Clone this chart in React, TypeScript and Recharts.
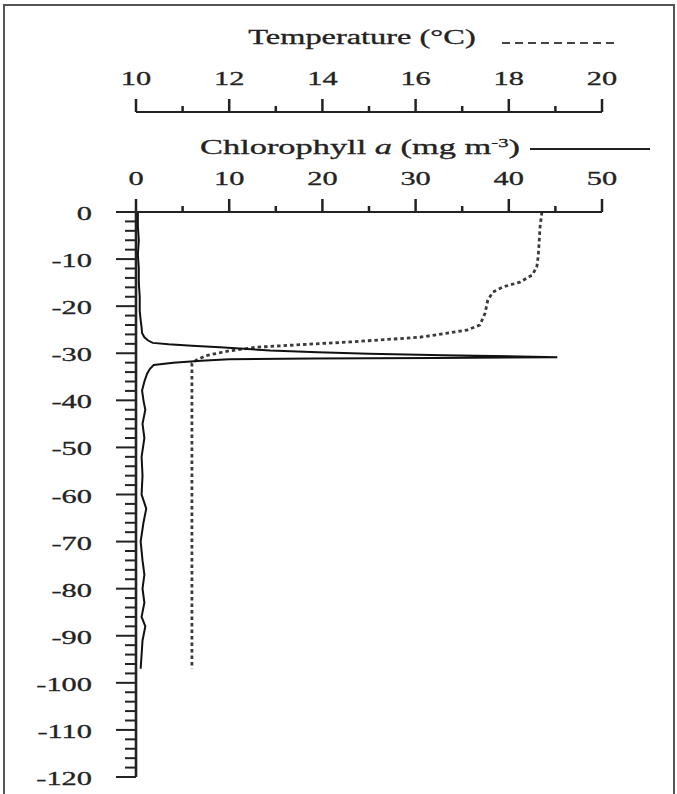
import React from 'react';
import { LineChart, Line, XAxis, YAxis, Label } from 'recharts';

// Chlorophyll a profile (mg m-3) by depth (m)
const chlDepth = [
  0, -3, -6, -9, -12, -15, -18, -21, -23, -24.5,
  -25.7, -26.6, -27.3, -27.8, -28.1, -28.4, -28.7, -29.1, -29.4, -29.8,
  -30.1, -30.4, -30.85, -31.0, -31.1, -31.3, -31.6, -32.0, -32.5, -33.3,
  -34.3, -36.0, -37.9, -40, -42, -45, -48, -52, -56, -60,
  -63, -66, -70, -74, -77, -80, -83, -86, -88, -91,
  -94, -97,
];
const chlValue = [
  0.2, 0.2, 0.3, 0.2, 0.3, 0.3, 0.4, 0.4, 0.5, 0.6,
  0.65, 0.9, 1.3, 1.8, 3.5, 6.0, 9.0, 12.0, 14.4, 19.5,
  25, 33, 45.2, 32, 19, 10, 7, 4, 1.9, 1.5,
  1.2, 0.9, 0.65, 0.8, 1.0, 0.7, 0.9, 0.6, 0.7, 0.6,
  1.1, 0.8, 0.5, 0.7, 0.9, 0.7, 0.9, 0.6, 1.0, 0.7,
  0.6, 0.5,
];

// Temperature profile (°C) by depth (m)
const tempDepth = [
  0, -3.2, -6.6, -9.5, -11.7, -13.4, -14.9, -15.9, -17.0, -18.7,
  -21.5, -24.0, -25.1, -26.6, -27.6, -28.3, -28.7, -29.5, -30.5, -31.5,
  -32.2, -97,
];
const tempValue = [
  18.71, 18.67, 18.65, 18.63, 18.6, 18.5, 18.24, 17.88, 17.66, 17.55,
  17.49, 17.38, 17.1, 16.09, 14.59, 13.3, 12.6, 12.0, 11.5, 11.29,
  11.2, 11.2,
];

// Axis ticks
const chlMajorTicks = [0, 10, 20, 30, 40, 50];
const chlTicks = [0, 5, 10, 15, 20, 25, 30, 35, 40, 45, 50];
const tempMajorTicks = [10, 12, 14, 16, 18, 20];
const tempTicks = [10, 11, 12, 13, 14, 15, 16, 17, 18, 19, 20];
const depthMajorTicks = [0, -10, -20, -30, -40, -50, -60, -70, -80, -90, -100, -110, -120];
const depthMinorStep = 2;
const depthTicks: number[] = [];
for (let d = 0; d >= -120; d -= depthMinorStep) depthTicks.push(d);

const chlData = chlDepth.map((depth, i) => ({ depth, chl: chlValue[i] }));
const tempData = tempDepth.map((depth, i) => ({ depth, temp: tempValue[i] }));

const FONT = "'Liberation Serif', 'Times New Roman', serif";
const INK = '#222';
const SX = 1.6;

function TopTick(props: any) {
  const { x, y, payload, majors } = props;
  const v = payload.value;
  const major = majors.includes(v);
  return (
    <g>
      <line x1={x} x2={x} y1={y} y2={y - (major ? 13 : 6)} stroke={INK} strokeWidth={2.5} />
      {major && (
        <text
          transform={`translate(${x},${y - 27}) scale(${SX},1)`}
          textAnchor="middle"
          fontFamily={FONT}
          fontSize={19}
          fill={INK}
          stroke={INK}
          strokeWidth={0.3}
        >
          {v}
        </text>
      )}
    </g>
  );
}

function LeftTick(props: any) {
  const { x, y, payload } = props;
  const v = payload.value;
  const major = depthMajorTicks.includes(v);
  return (
    <g>
      <line x1={x} x2={x - (major ? 20 : 11)} y1={y} y2={y} stroke={INK} strokeWidth={2} />
      {major && (
        <text
          transform={`translate(${x - 44},${y + 8}) scale(${SX},1)`}
          textAnchor="end"
          fontFamily={FONT}
          fontSize={19}
          fill={INK}
          stroke={INK}
          strokeWidth={0.3}
        >
          {String(v)}
        </text>
      )}
    </g>
  );
}

function TempTitle(props: any) {
  const vb = props.viewBox || { x: 136, y: 12, width: 466, height: 100 };
  const lineY = vb.y + vb.height;
  const base = lineY - 68;
  return (
    <g>
      <text
        transform={`translate(${vb.x + 226},${base}) scale(1.62,1)`}
        textAnchor="middle"
        fontFamily={FONT}
        fontSize={20}
        fill={INK}
        stroke={INK}
        strokeWidth={0.3}
      >
        Temperature (°C)
      </text>
      <line
        x1={vb.x + 366}
        x2={vb.x + 481}
        y1={lineY - 69}
        y2={lineY - 69}
        stroke="#444"
        strokeWidth={2}
        strokeDasharray="8 5"
      />
    </g>
  );
}

function ChlTitle(props: any) {
  const vb = props.viewBox || { x: 136, y: 112, width: 466, height: 100 };
  const lineY = vb.y + vb.height;
  const base = lineY - 58;
  return (
    <g>
      <text
        transform={`translate(${vb.x + 224},${base}) scale(1.72,1)`}
        textAnchor="middle"
        fontFamily={FONT}
        fontSize={20}
        fill={INK}
        stroke={INK}
        strokeWidth={0.3}
      >
        Chlorophyll{' '}
        <tspan fontStyle="italic">a</tspan>
        {' '}(mg m
        <tspan dy={-7} fontSize={12}>-3</tspan>
        <tspan dy={7}>)</tspan>
      </text>
      <line
        x1={vb.x + 394}
        x2={vb.x + 514}
        y1={lineY - 63}
        y2={lineY - 63}
        stroke="#222"
        strokeWidth={2}
      />
    </g>
  );
}

export default function App() {
  return (
    <div
      style={{
        position: 'absolute',
        left: 0,
        top: 0,
        width: 677,
        height: 794,
        background: '#fff',
        overflow: 'hidden',
      }}
    >
      <div
        style={{
          position: 'absolute',
          left: 3,
          top: 4,
          width: 668,
          height: 800,
          borderTop: '2px solid #555',
          borderLeft: '2px solid #555',
          borderRight: '2px solid #555',
        }}
      />
      <LineChart
        width={677}
        height={794}
        layout="vertical"
        margin={{ top: 12, right: 75, bottom: 17, left: 0 }}
      >
        <XAxis
          xAxisId="chl"
          type="number"
          orientation="top"
          domain={[0, 50]}
          ticks={chlTicks}
          interval={0}
          height={100}
          tickSize={0}
          tickMargin={0}
          tickLine={false}
          axisLine={{ stroke: INK, strokeWidth: 2 }}
          tick={<TopTick majors={chlMajorTicks} />}
          allowDataOverflow
        >
          <Label content={<ChlTitle />} />
        </XAxis>
        <XAxis
          xAxisId="temp"
          type="number"
          orientation="top"
          domain={[10, 20]}
          ticks={tempTicks}
          interval={0}
          height={100}
          tickSize={0}
          tickMargin={0}
          tickLine={false}
          axisLine={{ stroke: INK, strokeWidth: 2 }}
          tick={<TopTick majors={tempMajorTicks} />}
          allowDataOverflow
        >
          <Label content={<TempTitle />} />
        </XAxis>
        <YAxis
          type="number"
          dataKey="depth"
          domain={[-120, 0]}
          reversed
          ticks={depthTicks}
          interval={0}
          width={136}
          tickSize={0}
          tickMargin={0}
          tickLine={false}
          axisLine={{ stroke: INK, strokeWidth: 2.6 }}
          tick={<LeftTick />}
          allowDataOverflow
        />
        <Line
          data={tempData}
          xAxisId="temp"
          dataKey="temp"
          type="linear"
          stroke="#3a3a3a"
          strokeWidth={2.8}
          strokeDasharray="3.5 3"
          dot={false}
          activeDot={false}
          isAnimationActive={false}
        />
        <Line
          data={chlData}
          xAxisId="chl"
          dataKey="chl"
          type="linear"
          stroke="#111"
          strokeWidth={2}
          dot={false}
          activeDot={false}
          isAnimationActive={false}
        />
      </LineChart>
    </div>
  );
}
